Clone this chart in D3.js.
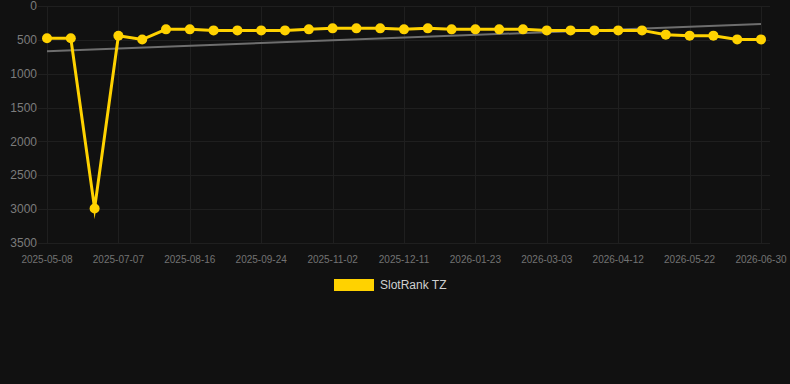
<!DOCTYPE html>
<html>
<head>
<meta charset="utf-8">
<script src="https://cdn.jsdelivr.net/npm/d3@7"></script>
<style>
  html, body { margin: 0; padding: 0; background: #111111; }
  svg { display: block; font-family: "Liberation Sans", Arial, sans-serif; }
</style>
</head>
<body>
<div id="chart"></div>
<script>
// dates for every point (labels shown every third one)
const dates = [
  '2025-05-08', '2025-05-28', '2025-06-17', '2025-07-07', '2025-07-20', '2025-08-03',
  '2025-08-16', '2025-08-29', '2025-09-11', '2025-09-24', '2025-10-07', '2025-10-20',
  '2025-11-02', '2025-11-15', '2025-11-28', '2025-12-11', '2025-12-25', '2026-01-09',
  '2026-01-23', '2026-02-05', '2026-02-18', '2026-03-03', '2026-03-16', '2026-03-29',
  '2026-04-12', '2026-04-25', '2026-05-08', '2026-05-22', '2026-06-04', '2026-06-17',
  '2026-06-30'
];

// rank values
const rankTZ = [
  477, 477, 2990, 440, 495, 345, 345, 360, 360, 360, 360, 345, 330, 330, 330, 345,
  330, 345, 345, 345, 345, 360, 360, 360, 360, 360, 423, 438, 438, 493, 493
];

const yTicks = [0, 500, 1000, 1500, 2000, 2500, 3000, 3500];
const seriesName = 'SlotRank TZ';

const width = 790;
const height = 384;
const margin = { left: 38, right: 20, top: 6, bottom: 141 };

const svg = d3.select('#chart')
  .append('svg')
  .attr('width', width)
  .attr('height', height);

svg.append('rect')
  .attr('width', width)
  .attr('height', height)
  .attr('fill', '#111111');

// x is a point scale over the dates
const x = d3.scalePoint()
  .domain(dates)
  .range([47, 761]);

// reversed y axis, 0 on top
const y = d3.scaleLinear()
  .domain([0, 3500])
  .range([margin.top, height - margin.bottom]);

const xLabels = dates.filter((d, i) => i % 3 === 0);

// grid
svg.append('g')
  .selectAll('line')
  .data(yTicks)
  .join('line')
  .attr('x1', margin.left)
  .attr('x2', width - margin.right)
  .attr('y1', d => Math.round(y(d)) + 0.5)
  .attr('y2', d => Math.round(y(d)) + 0.5)
  .attr('stroke', '#1f1f1f')
  .attr('stroke-width', 1);

svg.append('g')
  .selectAll('line')
  .data(xLabels)
  .join('line')
  .attr('x1', d => Math.round(x(d)) + 0.5)
  .attr('x2', d => Math.round(x(d)) + 0.5)
  .attr('y1', margin.top)
  .attr('y2', height - margin.bottom)
  .attr('stroke', '#1f1f1f')
  .attr('stroke-width', 1);

// y labels
svg.append('g')
  .selectAll('text')
  .data(yTicks)
  .join('text')
  .attr('x', 37)
  .attr('y', d => y(d))
  .attr('dy', '0.35em')
  .attr('text-anchor', 'end')
  .attr('fill', '#7c7c7c')
  .attr('font-size', '12px')
  .text(d => d);

// x labels
svg.append('g')
  .selectAll('text')
  .data(xLabels)
  .join('text')
  .attr('x', d => x(d))
  .attr('y', 259)
  .attr('dy', '0.35em')
  .attr('text-anchor', 'middle')
  .attr('fill', '#737373')
  .attr('font-size', '10px')
  .text(d => d);

// linear trend computed from the series
const n = rankTZ.length;
const meanI = (n - 1) / 2;
const meanY = d3.mean(rankTZ);
let sxy = 0, sxx = 0;
rankTZ.forEach((v, i) => {
  sxy += (i - meanI) * (v - meanY);
  sxx += (i - meanI) * (i - meanI);
});
const slope = sxy / sxx;
const trend = [0, n - 1].map(i => ({ i: i, v: meanY + slope * (i - meanI) }));

svg.append('line')
  .attr('x1', x(dates[trend[0].i]))
  .attr('y1', y(trend[0].v))
  .attr('x2', x(dates[trend[1].i]))
  .attr('y2', y(trend[1].v))
  .attr('stroke', '#6e6e6e')
  .attr('stroke-width', 2);

// series line
const line = d3.line()
  .x((d, i) => x(dates[i]))
  .y(d => y(d));

svg.append('path')
  .datum(rankTZ)
  .attr('d', line)
  .attr('fill', 'none')
  .attr('stroke', '#ffd200')
  .attr('stroke-width', 3)
  .attr('stroke-linejoin', 'miter')
  .attr('stroke-miterlimit', 10);

svg.append('g')
  .selectAll('circle')
  .data(rankTZ)
  .join('circle')
  .attr('cx', (d, i) => x(dates[i]))
  .attr('cy', d => y(d))
  .attr('r', 5)
  .attr('fill', '#ffd200');

// legend
const legend = svg.append('g');
legend.append('rect')
  .attr('x', 334)
  .attr('y', 279)
  .attr('width', 40)
  .attr('height', 12)
  .attr('fill', '#ffd200');
legend.append('text')
  .attr('x', 380)
  .attr('y', 285)
  .attr('dy', '0.35em')
  .attr('fill', '#d0d0d0')
  .attr('font-size', '12px')
  .text(seriesName);
</script>
</body>
</html>
